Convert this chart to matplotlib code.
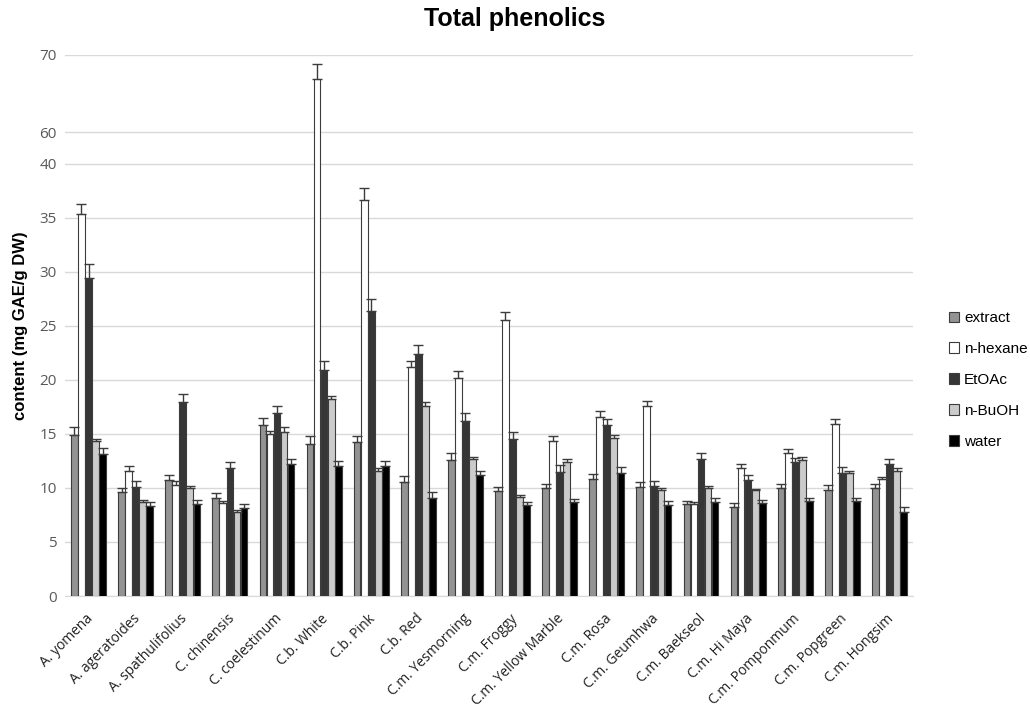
import numpy as np
import matplotlib
matplotlib.use("Agg")
import matplotlib.pyplot as plt

# data
species = ["A. yomena", "A. ageratoides", "A. spathulifolius", "C. chinensis",
           "C. coelestinum", "C.b. White", "C.b. Pink", "C.b. Red",
           "C.m. Yesmorning", "C.m. Froggy", "C.m. Yellow Marble", "C.m. Rosa",
           "C.m. Geumhwa", "C.m. Baekseol", "C.m. Hi Maya", "C.m. Pomponmum",
           "C.m. Popgreen", "C.m. Hongsim"]
series = ["extract", "n-hexane", "EtOAc", "n-BuOH", "water"]

extract = [14.9, 9.6, 10.7, 9.1, 15.8, 14.1, 14.2, 10.5, 12.6, 9.7, 10.0, 10.8, 10.1, 8.5, 8.2, 10.0, 9.8, 10.0]
hexane = [35.3, 11.6, 10.3, 8.6, 15.0, 66.9, 36.6, 21.2, 20.2, 25.5, 14.3, 16.6, 17.6, 8.5, 11.8, 13.2, 15.9, 10.8]
etoac = [29.4, 10.1, 17.9, 11.8, 16.9, 20.9, 26.4, 22.4, 16.2, 14.5, 11.5, 15.8, 10.2, 12.7, 10.7, 12.4, 11.4, 12.2]
buoh = [14.3, 8.7, 10.0, 7.8, 15.2, 18.2, 11.6, 17.6, 12.7, 9.2, 12.4, 14.6, 9.8, 10.0, 9.8, 12.6, 11.4, 11.6]
water = [13.1, 8.3, 8.5, 8.1, 12.2, 12.0, 12.0, 9.1, 11.2, 8.4, 8.7, 11.4, 8.4, 8.7, 8.6, 8.8, 8.8, 7.8]

extract_err = [0.7, 0.4, 0.5, 0.4, 0.7, 0.7, 0.6, 0.6, 0.6, 0.4, 0.4, 0.5, 0.4, 0.3, 0.4, 0.4, 0.5, 0.4]
hexane_err = [1.0, 0.4, 0.3, 0.2, 0.3, 2.0, 1.1, 0.5, 0.6, 0.8, 0.5, 0.5, 0.4, 0.2, 0.4, 0.4, 0.5, 0.2]
etoac_err = [1.3, 0.5, 0.8, 0.6, 0.7, 0.8, 1.1, 0.8, 0.7, 0.7, 0.6, 0.6, 0.4, 0.5, 0.5, 0.4, 0.5, 0.5]
buoh_err = [0.2, 0.2, 0.2, 0.2, 0.4, 0.3, 0.2, 0.3, 0.2, 0.1, 0.3, 0.3, 0.2, 0.2, 0.1, 0.3, 0.2, 0.2]
water_err = [0.6, 0.4, 0.4, 0.4, 0.5, 0.5, 0.5, 0.5, 0.4, 0.3, 0.3, 0.5, 0.4, 0.4, 0.3, 0.3, 0.3, 0.4]

yticks = [0, 5, 10, 15, 20, 25, 30, 35, 40, 60, 70]

values = [extract, hexane, etoac, buoh, water]
errors = [extract_err, hexane_err, etoac_err, buoh_err, water_err]
colors = ["#939393", "#ffffff", "#363636", "#cbcbcb", "#000000"]

# broken axis: 0-40 normal, 40-60 squeezed, 60-70 compressed
_raw = [-100, 0, 40, 60, 200]
_map = [-100, 0, 40, 42.87, 42.87 + 140 * 0.7167]


def fwd(y):
    return np.interp(y, _raw, _map)


def inv(y):
    return np.interp(y, _map, _raw)


fig = plt.figure(figsize=(10.3, 7.11), dpi=100)
ax = fig.add_axes([65 / 1030, 1 - 596 / 711, (913 - 65) / 1030, (596 - 55) / 711])
ax.set_yscale("function", functions=(fwd, inv))

x = np.arange(len(species))
w = 0.15
for i, (name, vals, errs, c) in enumerate(zip(series, values, errors, colors)):
    pos = x + (i - 2) * w
    ax.bar(pos, vals, w * 0.95, color=c, edgecolor="#3c3c3c", linewidth=0.8,
           label=name, zorder=3,
           yerr=[np.zeros(len(errs)), errs],
           error_kw=dict(ecolor="#3c3c3c", elinewidth=1, capsize=3.5, capthick=1))

ax.set_xlim(-0.5, len(species) - 0.5)
ax.set_ylim(0, 70)
ax.set_yticks(yticks)
ax.set_yticklabels([str(t) for t in yticks], fontsize=11, color="#595959",
                   family="Open Sans")
ax.yaxis.set_minor_locator(matplotlib.ticker.NullLocator())
ax.grid(axis="y", color="#d9d9d9", linewidth=1, zorder=0)
ax.set_axisbelow(True)
for s in ["top", "right", "left"]:
    ax.spines[s].set_visible(False)
ax.spines["bottom"].set_color("#d9d9d9")
ax.tick_params(axis="y", length=0, pad=6)
ax.tick_params(axis="x", length=0, pad=11)
ax.set_xticks(x)
ax.set_xticklabels(species, rotation=45, ha="right", va="top",
                   rotation_mode="anchor", fontsize=10, family="Open Sans",
                   color="#202020")
for lab in ax.get_xticklabels():
    lab.set_transform(lab.get_transform() +
                      matplotlib.transforms.ScaledTranslation(-3 / 100, 0, fig.dpi_scale_trans))

ax.set_ylabel("content (mg GAE/g DW)", fontsize=12, fontweight="bold",
              family="Liberation Sans", labelpad=8)
fig.text(0.5, 1 - 19 / 711, "Total phenolics", ha="center", va="center",
         fontsize=18, fontweight="bold", family="Liberation Sans")

leg = fig.legend(loc="center left", bbox_to_anchor=(935 / 1030, 1 - 380 / 711),
                 frameon=False, prop={"family": "Liberation Sans", "size": 11},
                 handlelength=0.7, handleheight=0.7, handletextpad=0.3,
                 labelspacing=1.1)

fig.savefig("out.png", dpi=100)
